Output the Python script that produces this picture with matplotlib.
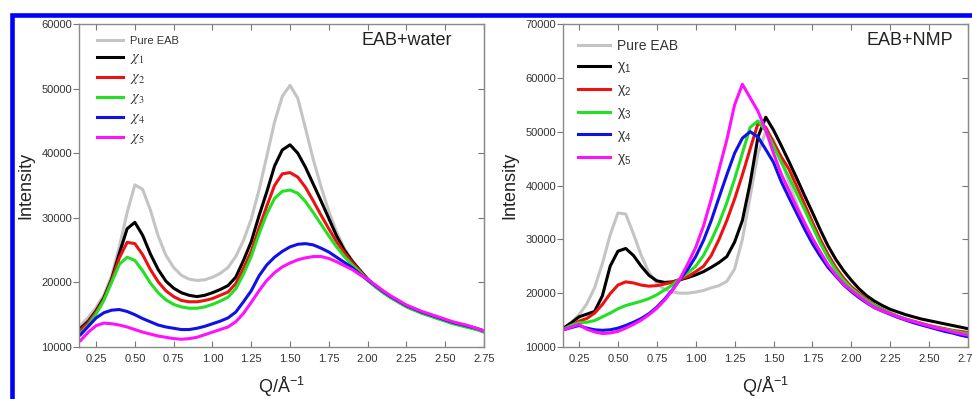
import matplotlib
matplotlib.use('Agg')
import matplotlib.pyplot as plt
from matplotlib.patches import Rectangle
from matplotlib.ticker import FormatStrFormatter, MultipleLocator

plt.rcParams['font.family'] = ['Liberation Sans', 'DejaVu Sans']
plt.rcParams['mathtext.fontset'] = 'custom'
plt.rcParams['mathtext.rm'] = 'Liberation Sans'
plt.rcParams['mathtext.it'] = 'Liberation Sans'
plt.rcParams['mathtext.bf'] = 'Liberation Sans:bold'

# Q grid (1/Angstrom) the curves were read at
q = [0.15, 0.20, 0.25, 0.30, 0.35, 0.40, 0.45, 0.50, 0.55, 0.60,
     0.65, 0.70, 0.75, 0.80, 0.85, 0.90, 0.95, 1.00, 1.05, 1.10,
     1.15, 1.20, 1.25, 1.30, 1.35, 1.40, 1.45, 1.50, 1.55, 1.60,
     1.65, 1.70, 1.75, 1.80, 1.85, 1.90, 1.95, 2.00, 2.05, 2.10,
     2.15, 2.20, 2.25, 2.30, 2.35, 2.40, 2.45, 2.50, 2.55, 2.60,
     2.65, 2.70, 2.75]

# EAB + water
pure_w = [13300, 14600, 16100, 18000, 21000, 25500, 30800, 35100, 34400, 31200,
          27200, 24200, 22300, 21100, 20500, 20300, 20400, 20800, 21400, 22300,
          24000, 26500, 29800, 34300, 39500, 44800, 48800, 50500, 48500, 43800,
          39000, 34800, 31000, 27800, 25300, 23400, 21900, 20600, 19400, 18500,
          17700, 17000, 16300, 15800, 15300, 14900, 14500, 14100, 13700, 13400,
          13100, 12800, 12400]
x1_w = [12900, 14000, 15600, 17600, 20500, 24500, 28300, 29300, 27300, 24400,
        22000, 20200, 19100, 18400, 18000, 17800, 18000, 18400, 18900, 19500,
        20800, 23400, 26300, 30300, 34000, 38000, 40500, 41300, 40000, 37800,
        35200, 32600, 29900, 27200, 25000, 23300, 21900, 20500, 19400, 18500,
        17700, 17000, 16300, 15800, 15300, 14900, 14500, 14100, 13700, 13400,
        13100, 12800, 12400]
x2_w = [12600, 13800, 15400, 17400, 20300, 23800, 26200, 26000, 24300, 22000,
        20100, 18700, 17800, 17200, 17000, 17000, 17200, 17500, 18000, 18500,
        19800, 22200, 24800, 28400, 31800, 35000, 36800, 37000, 36300, 34700,
        32600, 30400, 28300, 26300, 24600, 23100, 21800, 20400, 19400, 18500,
        17700, 17000, 16300, 15800, 15300, 14900, 14500, 14100, 13700, 13400,
        13100, 12800, 12400]
x3_w = [12100, 13400, 15100, 17200, 20000, 22800, 23900, 23400, 21800, 19900,
        18400, 17300, 16600, 16200, 16000, 16000, 16200, 16600, 17100, 17700,
        19000, 21300, 24000, 27500, 30600, 33000, 34100, 34300, 33800, 32500,
        30800, 29000, 27200, 25500, 24000, 22700, 21600, 20300, 19300, 18400,
        17600, 16900, 16200, 15700, 15200, 14800, 14400, 14000, 13600, 13300,
        13000, 12700, 12300]
x4_w = [11900, 13200, 14500, 15300, 15700, 15800, 15500, 15000, 14400, 13900,
        13400, 13100, 12900, 12700, 12700, 12900, 13200, 13600, 14000, 14500,
        15400, 17000, 18700, 21000, 22700, 23900, 24800, 25500, 25900, 26000,
        25800, 25300, 24700, 23900, 23100, 22300, 21300, 20400, 19500, 18600,
        17800, 17100, 16400, 15900, 15400, 15000, 14600, 14200, 13800, 13500,
        13200, 12900, 12500]
x5_w = [11000, 12300, 13300, 13700, 13600, 13400, 13100, 12700, 12300, 12000,
        11700, 11500, 11300, 11200, 11300, 11500, 11900, 12300, 12700, 13100,
        13900, 15200, 16900, 18700, 20300, 21500, 22400, 23000, 23500, 23800,
        24000, 24000, 23700, 23200, 22600, 22000, 21200, 20500, 19600, 18700,
        17900, 17200, 16500, 16000, 15500, 15100, 14700, 14300, 13900, 13600,
        13300, 12900, 12500]

# EAB + NMP
pure_n = [13400, 14500, 16000, 18000, 21000, 25500, 30800, 34900, 34700, 31000,
          27000, 23800, 21800, 20700, 20200, 20000, 20000, 20200, 20500, 21000,
          21400, 22200, 24500, 30000, 38000, 46000, 50000, 48500, 44800, 40500,
          36500, 33000, 30000, 27300, 25000, 23100, 21500, 20300, 19100, 18100,
          17300, 16600, 16000, 15500, 15000, 14600, 14200, 13800, 13400, 13100,
          12700, 12400, 12100]
x1_n = [13500, 14500, 15600, 16100, 16600, 19500, 25000, 27800, 28300, 27000,
        25000, 23300, 22300, 22000, 22100, 22500, 22900, 23400, 24000, 24800,
        25700, 26800, 29500, 33500, 40500, 49000, 52700, 50300, 47400, 44400,
        41300, 38100, 35000, 31800, 28800, 26300, 24200, 22400, 20800, 19500,
        18500, 17700, 17000, 16500, 16000, 15600, 15200, 14900, 14600, 14300,
        14000, 13700, 13400]
x2_n = [13300, 14000, 14800, 15300, 16300, 17900, 19900, 21500, 22100, 21900,
        21500, 21300, 21400, 21700, 22000, 22600, 23100, 24000, 25000, 27000,
        30000, 33500, 37500, 42000, 46800, 51500, 50800, 48000, 45300, 43000,
        39800, 36500, 33200, 30000, 27200, 24800, 22800, 21200, 20000, 18800,
        17800, 17000, 16300, 15700, 15200, 14800, 14400, 14000, 13700, 13400,
        13100, 12900, 12700]
x3_n = [13300, 14000, 14500, 14600, 14900, 15600, 16300, 17100, 17700, 18100,
        18500, 19000, 19700, 20600, 21500, 22700, 23800, 25000, 27000, 29800,
        33000, 36800, 41200, 46000, 50800, 52000, 50200, 47300, 44300, 41500,
        38500, 35500, 32400, 29300, 26600, 24300, 22400, 20900, 19700, 18600,
        17700, 16900, 16300, 15700, 15200, 14700, 14300, 13900, 13600, 13300,
        13000, 12700, 12500]
x4_n = [13200, 13600, 14000, 13500, 13200, 13100, 13200, 13500, 14000, 14600,
        15300, 16200, 17400, 18900, 20600, 22600, 24500, 26800, 29800, 33500,
        37800, 42000, 46000, 48800, 50000, 49000, 46700, 44300, 40700, 37700,
        34800, 31900, 29200, 26900, 24800, 23200, 21600, 20300, 19200, 18200,
        17300, 16700, 16100, 15500, 15000, 14500, 14100, 13700, 13300, 12900,
        12600, 12200, 11900]
x5_n = [13200, 13700, 14200, 13300, 12800, 12500, 12600, 12900, 13500, 14200,
        15000, 16000, 17200, 18700, 20500, 22700, 25500, 28500, 32500, 37500,
        43000, 48500, 55000, 58800, 56300, 53800, 50300, 46000, 42100, 39000,
        35900, 33000, 30200, 27700, 25300, 23400, 21700, 20500, 19400, 18300,
        17300, 16700, 16200, 15600, 15100, 14700, 14300, 13900, 13500, 13200,
        12800, 12500, 12200]

colors = ['#c4c4c4', '#000000', '#ee1111', '#22e022', '#1010e8', '#ff10ff']
labels_w = ['Pure EAB', r'$\chi_1$', r'$\chi_2$', r'$\chi_3$', r'$\chi_4$', r'$\chi_5$']
labels_n = ['Pure EAB', r'$\chi_1$', r'$\chi_2$', r'$\chi_3$', r'$\chi_4$', r'$\chi_5$']

fig = plt.figure(figsize=(9.72, 3.99), dpi=100)
ax1 = fig.add_axes([79 / 972, 1 - 347 / 399, 405 / 972, 323 / 399])
ax2 = fig.add_axes([563 / 972, 1 - 347 / 399, 405 / 972, 323 / 399])


def style_axes(ax, xmin, ymax):
    ax.set_xlim(xmin, 2.75)
    ax.set_ylim(10000, ymax)
    ax.xaxis.set_major_locator(MultipleLocator(0.25))
    ax.xaxis.set_major_formatter(FormatStrFormatter('%.2f'))
    ax.yaxis.set_major_locator(MultipleLocator(10000))
    ax.yaxis.set_major_formatter(FormatStrFormatter('%d'))
    for s in ax.spines.values():
        s.set_color('#8a8a8a')
        s.set_linewidth(1.0)
    ax.tick_params(axis='x', direction='in', top=True, length=4, color='#777777',
                   labelsize=8, labelcolor='#333333', pad=5)
    ax.tick_params(axis='y', direction='out', right=False, length=4, color='#777777',
                   labelsize=8, labelcolor='#333333', pad=1)
    sec = ax.secondary_yaxis('right')
    sec.tick_params(direction='in', length=4, color='#777777', labelright=False)
    sec.spines['right'].set_color('#8a8a8a')
    ax.set_ylabel('Intensity', fontsize=13, color='#222222', labelpad=5)
    ax.set_xlabel('Q/Å$^{-1}$', fontsize=13, color='#222222', labelpad=8)


series_w = [pure_w, x1_w, x2_w, x3_w, x4_w, x5_w]
series_n = [pure_n, x1_n, x2_n, x3_n, x4_n, x5_n]

for ys, c, lab in zip(series_w, colors, labels_w):
    ax1.plot(q, ys, color=c, lw=2.2, label=lab)
for ys, c, lab in zip(series_n, colors, labels_n):
    ax2.plot(q, ys, color=c, lw=2.2, label=lab)

style_axes(ax1, 0.14, 60000)
style_axes(ax2, 0.147, 70000)

leg1 = ax1.legend(loc='upper left', bbox_to_anchor=(0.044, 0.962), frameon=False,
                  fontsize=8, handlelength=2.4, handletextpad=0.55,
                  labelspacing=0.35, borderpad=0, borderaxespad=0)
for i, t in enumerate(leg1.get_texts()):
    t.set_color('#333333')
    t.set_math_fontfamily('stix')
    if i > 0:
        t.set_fontsize(10.5)

leg2 = ax2.legend(loc='upper left', bbox_to_anchor=(0.037, 0.955), frameon=False,
                  fontsize=10, handlelength=2.3, handletextpad=0.5,
                  labelspacing=0.5, borderpad=0, borderaxespad=0)
for t in leg2.get_texts():
    t.set_color('#333333')

ax1.text(0.921, 0.95, 'EAB+water', transform=ax1.transAxes, ha='right', va='center',
         fontsize=13, color='#222222')
ax2.text(0.963, 0.95, 'EAB+NMP', transform=ax2.transAxes, ha='right', va='center',
         fontsize=13, color='#222222')

# blue frame, cut off on the right and at the bottom
fig.add_artist(Rectangle((12.3 / 972, -0.5), 2.0, 1.5 - 14.5 / 399, transform=fig.transFigure,
                         fill=False, edgecolor='#0000ff', linewidth=3.3))

fig.savefig('out.png', dpi=100, facecolor='white')
